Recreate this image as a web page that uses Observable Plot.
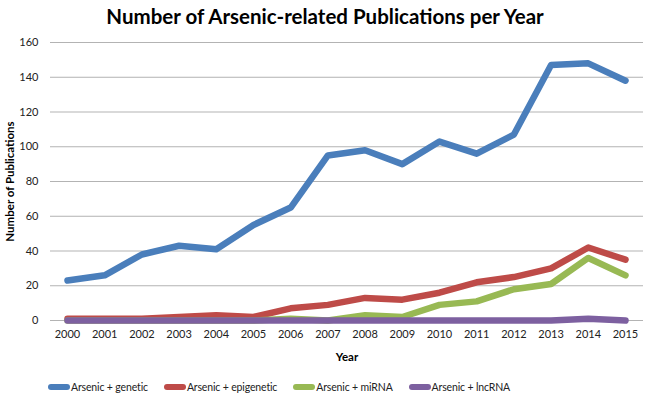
<!DOCTYPE html>
<html>
<head>
<meta charset="utf-8">
<script src="https://cdn.jsdelivr.net/npm/d3@7"></script>
<script src="https://cdn.jsdelivr.net/npm/@observablehq/plot@0.6"></script>
<style>
  body { margin: 0; background: #fff; font-family: Lato, "Open Sans", sans-serif; }
  #wrap { width: 650px; height: 400px; position: relative; }
  #title { height: 32px; line-height: 32px; text-align: center; font-weight: bold; font-size: 20.5px; color: #000; }
  #legend { position: absolute; top: 381px; left: 48px; display: flex; gap: 16px; font-size: 10.5px; color: #222; letter-spacing: -0.15px; }
  .item { display: flex; align-items: center; }
  .sw { width: 22px; height: 6px; border-radius: 3px; margin-right: 1px; }
</style>
</head>
<body>
<div id="wrap">
  <div id="title">Number of Arsenic-related Publications per Year</div>
  <div id="chart"></div>
  <div id="legend"></div>
</div>
<script>
const years = [2000,2001,2002,2003,2004,2005,2006,2007,2008,2009,2010,2011,2012,2013,2014,2015];
const seriesNames = ["Arsenic + genetic", "Arsenic + epigenetic", "Arsenic + miRNA", "Arsenic + lncRNA"];
const genetic    = [23,26,38,43,41,55,65,95,98,90,103,96,107,147,148,138];
const epigenetic = [1,1,1,2,3,2,7,9,13,12,16,22,25,30,42,35];
const mirna      = [0,0,0,0,0,0,1,0,3,2,9,11,18,21,36,26];
const lncrna     = [0,0,0,0,0,0,0,0,0,0,0,0,0,0,1,0];
const colors = ["#4a7ebb", "#be4b48", "#98b954", "#7d60a0"];
const yTicks = [0,20,40,60,80,100,120,140,160];

const allSeries = [genetic, epigenetic, mirna, lncrna];
const data = [];
allSeries.forEach((vals, i) => vals.forEach((v, j) => data.push({year: years[j], value: v, series: seriesNames[i]})));

const chart = Plot.plot({
  width: 650,
  height: 336,
  marginLeft: 50,
  marginRight: 7,
  marginTop: 10,
  marginBottom: 48,
  insetLeft: 17,
  insetRight: 18,
  style: { fontFamily: "Lato, 'Open Sans', sans-serif", fontSize: "11px", color: "#222" },
  x: { domain: [2000, 2015], ticks: years, tickFormat: d => String(d), tickSize: 0, tickPadding: 10, label: "Year", labelAnchor: "center", labelOffset: 40, labelArrow: "none" },
  y: { domain: [0, 160], ticks: yTicks, tickSize: 0, tickPadding: 12, label: "Number of Publications", labelAnchor: "center", labelOffset: 45, labelArrow: "none" },
  color: { domain: seriesNames, range: colors },
  marks: [
    Plot.ruleY(yTicks, { stroke: "#b3b3b3", strokeWidth: 1, x1: 2000, x2: 2015, insetLeft: -17, insetRight: -18 }),
    Plot.line(data, { x: "year", y: "value", z: "series", stroke: "series", strokeWidth: 6.5, strokeLinejoin: "round", strokeLinecap: "round" })
  ]
});
chart.querySelectorAll("[aria-label='x-axis label'] text, [aria-label='y-axis label'] text").forEach(t => {
  t.style.fontWeight = "bold"; t.style.fill = "#000"; t.style.fontSize = "11.5px";
  t.textContent = t.textContent.replace(/\s*[→↑←↓]\s*/g, "").trim();
});
document.getElementById("chart").appendChild(chart);

const legend = document.getElementById("legend");
seriesNames.forEach((name, i) => {
  const item = document.createElement("div");
  item.className = "item";
  const sw = document.createElement("div");
  sw.className = "sw";
  sw.style.background = colors[i];
  const tx = document.createElement("span");
  tx.textContent = name;
  item.appendChild(sw); item.appendChild(tx);
  legend.appendChild(item);
});
</script>
</body>
</html>
